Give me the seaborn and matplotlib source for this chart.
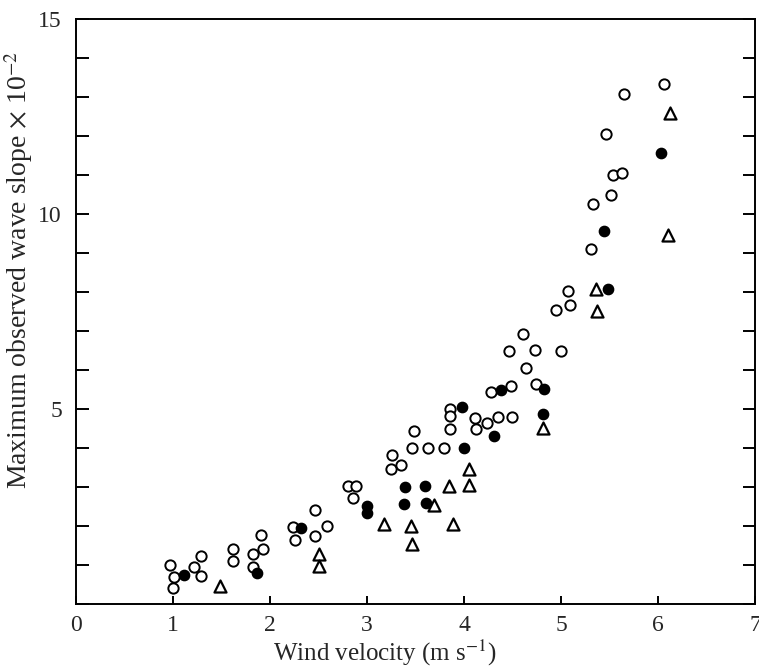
import numpy as np
import pandas as pd
import seaborn as sns
import matplotlib.pyplot as plt

# open circles
open_x = [0.97, 1.01, 1.00, 1.22, 1.29, 1.29, 1.62, 1.62, 1.83, 1.82, 1.91, 1.93,
          2.24, 2.26, 2.46, 2.46, 2.59, 2.80, 2.89, 2.86, 3.26, 3.25, 3.35, 3.48,
          3.46, 3.63, 3.79, 3.85, 3.86, 3.85, 4.11, 4.12, 4.24, 4.35, 4.49, 4.28,
          4.48, 4.74, 4.64, 4.46, 4.73, 5.00, 4.61, 4.95, 5.09, 5.07, 5.31, 5.33,
          5.51, 5.53, 5.63, 5.46, 5.65, 6.06]
open_y = [1.00, 0.70, 0.40, 0.96, 1.23, 0.72, 1.42, 1.11, 1.28, 0.96, 1.77, 1.42,
          1.98, 1.64, 2.42, 1.74, 2.00, 3.02, 3.03, 2.71, 3.83, 3.47, 3.55, 4.44,
          3.99, 3.99, 3.99, 4.99, 4.81, 4.48, 4.76, 4.48, 4.64, 4.78, 4.80, 5.44,
          5.59, 5.63, 6.04, 6.48, 6.52, 6.49, 6.91, 7.53, 7.65, 8.02, 9.11, 10.24,
          10.48, 11.00, 11.05, 12.05, 13.06, 13.33]

# filled circles
filled_x = [1.11, 1.87, 2.32, 3.00, 3.00, 3.39, 3.60, 3.38, 3.61, 3.98, 4.00,
            4.31, 4.38, 4.82, 4.81, 5.44, 5.48, 6.03]
filled_y = [0.74, 0.80, 1.95, 2.51, 2.32, 2.99, 3.02, 2.55, 2.58, 5.04, 4.01,
            4.30, 5.48, 5.52, 4.86, 9.56, 8.07, 11.57]

# triangles
tri_x = [1.49, 2.51, 2.51, 3.17, 3.45, 3.46, 3.84, 4.05, 4.05, 3.69, 3.89,
         4.81, 5.36, 5.37, 6.10, 6.12]
tri_y = [0.46, 1.28, 0.97, 2.05, 2.00, 1.54, 3.03, 3.05, 3.46, 2.54, 2.04,
         4.51, 8.06, 7.51, 9.45, 12.58]

sns.set_style("ticks")
plt.rcParams['font.family'] = ['Liberation Serif', 'DejaVu Serif']
plt.rcParams['mathtext.fontset'] = 'stix'

fig = plt.figure(figsize=(7.59, 6.67), dpi=100)
ax = fig.add_axes([0.100, 0.0945, 0.895, 0.8775])

sns.scatterplot(x=open_x, y=open_y, marker="o", s=55, facecolor="white",
                edgecolor="black", linewidth=1.4, ax=ax)
sns.scatterplot(x=filled_x, y=filled_y, marker="o", s=55, color="black",
                edgecolor="black", linewidth=1.0, ax=ax)
sns.scatterplot(x=tri_x, y=tri_y, marker="^", s=75, facecolor="white",
                edgecolor="black", linewidth=1.6, ax=ax)

ax.set_xlim(0, 7)
ax.set_ylim(0, 15)
ax.set_xticks(range(0, 8))
ax.set_yticks(range(0, 16))
ax.set_yticklabels(["" if v % 5 or v == 0 else str(v) for v in range(0, 16)])
ax.tick_params(axis="both", direction="in", labelsize=17, width=1.4, color="black")
ax.tick_params(axis="y", length=9, right=True, pad=10)
ax.tick_params(axis="x", length=6, pad=8)
for sp in ax.spines.values():
    sp.set_linewidth(1.4)
    sp.set_color("black")

ax.set_xlabel(r"Wind velocity (m s$^{-1}$)", fontsize=18)
ax.set_ylabel(r"Maximum observed wave slope $\times$ 10$^{-2}$", fontsize=20)
ax.xaxis.set_label_coords(0.455, -0.057)
ax.yaxis.set_label_coords(-0.06, 0.57)

fig.savefig("out.png", dpi=100)
